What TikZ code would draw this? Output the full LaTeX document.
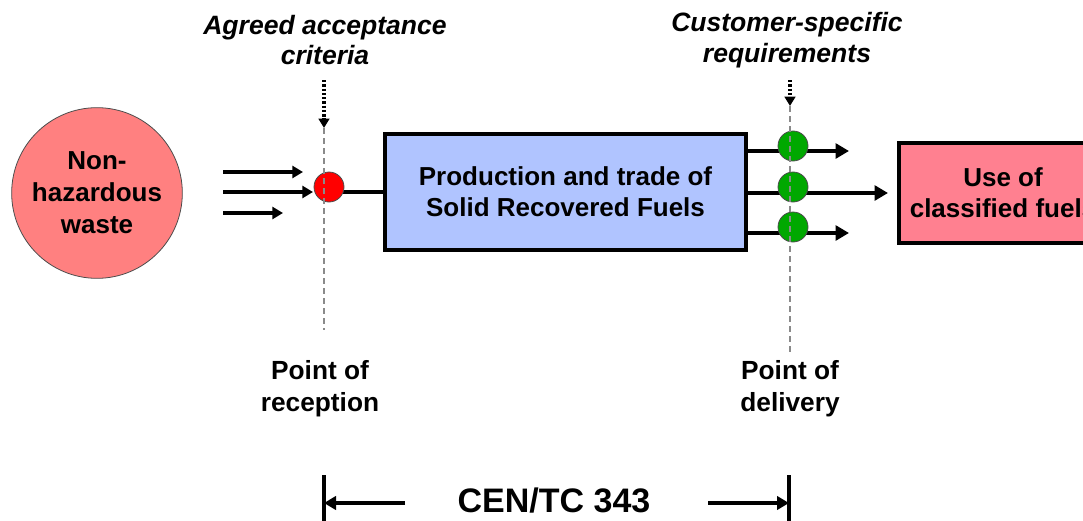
\documentclass[tikz,border=0pt]{standalone}
\usepackage{fontspec}
\setmainfont{Liberation Sans}
\usetikzlibrary{arrows.meta,calc}
\definecolor{wastered}{HTML}{FF8080}
\definecolor{srfblue}{HTML}{B0C4FF}
\definecolor{usepink}{HTML}{FF8090}
\definecolor{dotred}{HTML}{FF0000}
\definecolor{dotgreen}{HTML}{00A800}
\definecolor{guide}{HTML}{8A8A8A}
\begin{document}
\begin{tikzpicture}[x=0.75pt,y=-0.75pt,
  lbl/.style={font=\fontsize{19.7}{24}\selectfont\bfseries, align=center, inner sep=0pt},
  ilbl/.style={font=\fontsize{19.9}{23}\selectfont\bfseries\itshape, align=center, inner sep=0pt},
  flow/.style={line width=3pt, -{Triangle[length=8pt,width=9pt]}},
  outflow/.style={line width=3pt, -{Triangle[length=10pt,width=11pt]}},
  feed/.style={line width=2.4pt, dash pattern=on 1.8pt off 1.4pt, -{Triangle[length=7pt,width=8pt]}},
  guideline/.style={guide, line width=1.2pt, dash pattern=on 4.5pt off 3pt},
  checkpoint/.style={circle, draw=black!70, line width=0.6pt, minimum size=22.5pt, inner sep=0pt},
  procbox/.style={draw, line width=3pt, inner sep=0pt, align=center,
    font=\fontsize{19.5}{23}\selectfont\bfseries},
  scopearrow/.style={line width=2.5pt, -{Triangle[length=9pt,width=10pt]}},
]
\useasboundingbox (0,0) rectangle (1083,521);
\clip (0,0) rectangle (1083,521);

% source of the waste
\node[circle, draw=black!70, line width=0.6pt, fill=wastered, minimum size=128pt,
      inner sep=0pt, align=center, font=\fontsize{19.5}{24}\selectfont\bfseries]
  (waste) at (97,193) {Non-\\hazardous\\waste};

% SRF production
\node[procbox, fill=srfblue, minimum width=271pt, minimum height=87pt]
  (srf) at (565.5,192) {Production and trade of\\Solid Recovered Fuels};

% end use (runs past the right edge)
\node[procbox, fill=usepink, minimum width=156pt, minimum height=75pt]
  (use) at (1003,192.5) {Use of\\classified fuels};

% incoming waste streams
\coordinate (i1s) at (223,172); \coordinate (i1e) at (303,172);
\coordinate (i2s) at (223,192); \coordinate (i2e) at (313,192);
\coordinate (i3s) at (223,213); \coordinate (i3e) at (283,213);
\draw[flow] (i1s) -- (i1e);
\draw[flow] (i2s) -- (i2e);
\draw[flow] (i3s) -- (i3e);

% reception link into the plant
\coordinate (rj) at (330,192);
\draw[line width=3pt] (rj) -- (srf.west |- rj);

% delivered fuel streams
\coordinate (o1) at (849,151);
\coordinate (o2) at (888,193);
\coordinate (o3) at (849,233);
\draw[outflow] (srf.east |- o1) -- (o1);
\draw[outflow] (srf.east |- o2) -- (o2);
\draw[outflow] (srf.east |- o3) -- (o3);

% quality checkpoints
\node[checkpoint, fill=dotred] (rec) at (329,187) {};
\node[checkpoint, fill=dotgreen] (d1) at (793,146) {};
\node[checkpoint, fill=dotgreen] (d2) at (793,187) {};
\node[checkpoint, fill=dotgreen] (d3) at (793,227) {};

% requirement labels and feeds
\node[ilbl] (crit) at (325,40) {Agreed acceptance\\criteria};
\node[ilbl] (cust) at (787,40) {Customer-specific\\requirements};
\coordinate (f1s) at (324,80);  \coordinate (f1e) at (324,128);
\coordinate (f2s) at (790,80);  \coordinate (f2e) at (790,106);
\draw[feed] (f1s) -- (f1e);
\draw[feed] (f2s) -- (f2e);

% reception and delivery points
\coordinate (g1e) at (324,330);
\coordinate (g2e) at (790,353);
\draw[guideline] (f1e) -- (g1e);
\draw[guideline] (f2e) -- (g2e);
\node[lbl] (prec) at (320,389) {Point of\\reception};
\node[lbl] (pdel) at (790,389) {Point of\\delivery};

% scope of the standard
\coordinate (b1t) at (324,475); \coordinate (b1b) at (324,525);
\coordinate (b2t) at (789,475); \coordinate (b2b) at (789,525);
\draw[line width=3.5pt] (b1t) -- (b1b);
\draw[line width=3.5pt] (b2t) -- (b2b);
\node[font=\fontsize{25.5}{30}\selectfont\bfseries, inner sep=0pt] (cen) at (554,501) {CEN/TC 343};
\coordinate (s1) at (405,503); \coordinate (s2) at (708,503);
\draw[scopearrow] (s1) -- (b1t |- s1);
\draw[scopearrow] (s2) -- (b2t |- s2);
\end{tikzpicture}
\end{document}
